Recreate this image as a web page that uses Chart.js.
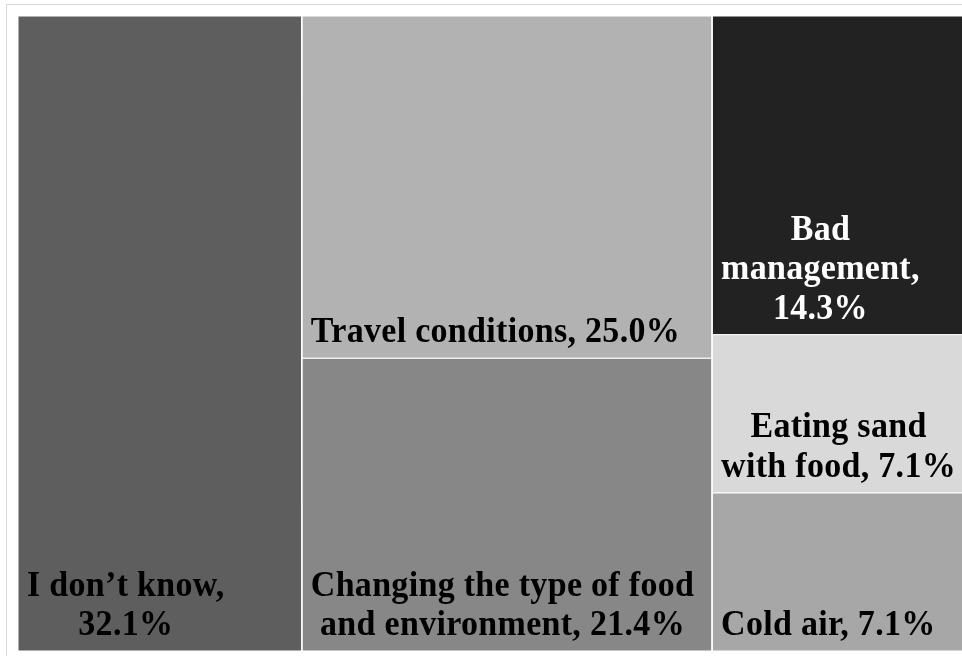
<!DOCTYPE html>
<html>
<head>
<meta charset="utf-8">
<script src="https://cdn.jsdelivr.net/npm/chart.js@4.4.1/dist/chart.umd.min.js"></script>
<style>
  html, body { margin: 0; padding: 0; background: #fff; overflow: hidden; }
  #frame { position: absolute; left: 6px; top: 4px; width: 1000px; height: 700px; border: 1px solid #d9d9d9; }
  #wrap { position: absolute; left: 18px; top: 16px; width: 946px; height: 635px; }
</style>
</head>
<body>
<div id="frame"></div>
<div id="wrap"><canvas id="treemap"></canvas></div>
<script>
// Treemap of reported causes (share of respondents, %)
const categories = [
  'I don’t know',
  'Travel conditions',
  'Changing the type of food and environment',
  'Bad management',
  'Eating sand with food',
  'Cold air',
];
const shares = [32.1, 25.0, 21.4, 14.3, 7.1, 7.1];
// which column of the treemap each category sits in
const columnOf = [0, 1, 1, 2, 2, 2];
const cellColors = ['#5e5e5e', '#b2b2b2', '#878787', '#222222', '#d9d9d9', '#a7a7a7'];
const textColors = ['#000', '#000', '#000', '#fff', '#000', '#000'];

/**
 * Slice-and-dice layout: columns sized by their total share,
 * cells inside a column stacked by their share of that column.
 */
function layoutColumns() {
  const total = shares.reduce((s, v) => s + v, 0);
  const cols = [];
  columnOf.forEach((c, i) => {
    (cols[c] = cols[c] || []).push(i);
  });
  const rects = [];
  let x = 0;
  cols.forEach((idxs) => {
    const colSum = idxs.reduce((s, i) => s + shares[i], 0);
    let y = 0;
    idxs.forEach((i) => {
      const h = shares[i] / colSum;
      rects[i] = { x0: x, x1: x + colSum, y0: y, y1: y + h };
      y += h;
    });
    x += colSum;
  });
  return { total, rects };
}

const layout = layoutColumns();

const datasets = categories.map((name, i) => {
  const r = layout.rects[i];
  return {
    label: name,
    data: [
      { x: r.x0, y: r.y0 },
      { x: r.x1, y: r.y0 },
      { x: r.x1, y: r.y1 },
      { x: r.x0, y: r.y1 },
      { x: r.x0, y: r.y0 },
    ],
    showLine: true,
    fill: 'shape',
    backgroundColor: cellColors[i],
    borderColor: '#ffffff',
    borderWidth: 1,
    pointRadius: 0,
    tension: 0,
  };
});

const FONT_SIZE = 34;
const STRETCH_Y = 1.05;
const LINE_GAP = 39.5;

function wrapWords(ctx, text, maxWidth) {
  const words = text.split(' ');
  const lines = [];
  let cur = '';
  words.forEach((w) => {
    const test = cur ? cur + ' ' + w : w;
    if (cur && ctx.measureText(test).width > maxWidth) {
      lines.push(cur);
      cur = w;
    } else {
      cur = test;
    }
  });
  if (cur) lines.push(cur);
  return lines;
}

const cellLabels = {
  id: 'cellLabels',
  afterDatasetsDraw(chart) {
    const ctx = chart.ctx;
    const xs = chart.scales.x;
    const ys = chart.scales.y;
    ctx.save();
    ctx.font = 'bold ' + FONT_SIZE + 'px "Liberation Serif", "Times New Roman", serif';
    ctx.letterSpacing = '0.3px';
    ctx.textBaseline = 'alphabetic';
    ctx.textAlign = 'center';
    categories.forEach((name, i) => {
      const r = layout.rects[i];
      const left = xs.getPixelForValue(r.x0);
      const right = xs.getPixelForValue(r.x1);
      const bottom = ys.getPixelForValue(r.y1);
      const text = name + ', ' + shares[i].toFixed(1) + '%';
      const lines = wrapWords(ctx, text, right - left - 14);
      const blockW = Math.max(...lines.map((l) => ctx.measureText(l).width));
      const cx = left + 9 + blockW / 2;
      ctx.fillStyle = textColors[i];
      lines.forEach((line, k) => {
        const base = bottom - 16 - (lines.length - 1 - k) * LINE_GAP;
        ctx.save();
        ctx.translate(cx, base);
        ctx.scale(1, STRETCH_Y);
        ctx.fillText(line, 0, 0);
        ctx.restore();
      });
    });
    ctx.restore();
  },
};

new Chart(document.getElementById('treemap'), {
  type: 'scatter',
  data: { datasets },
  options: {
    responsive: true,
    maintainAspectRatio: false,
    animation: false,
    events: [],
    layout: { padding: 0 },
    plugins: {
      legend: { display: false },
      tooltip: { enabled: false },
    },
    scales: {
      x: { type: 'linear', min: 0, max: layout.total, display: false },
      y: { type: 'linear', min: 0, max: 1, reverse: true, display: false },
    },
  },
  plugins: [cellLabels],
});
</script>
</body>
</html>
